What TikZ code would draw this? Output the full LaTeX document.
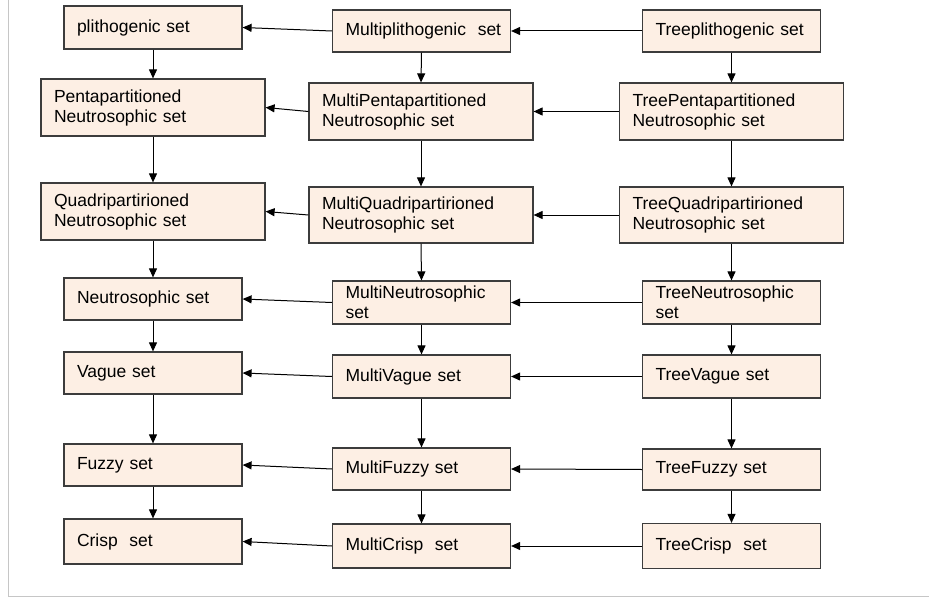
\documentclass[tikz,border=0pt]{standalone}
\usepackage{fontspec}
\setmainfont{Liberation Sans}
\usetikzlibrary{arrows.meta}
\definecolor{boxfill}{RGB}{253,239,228}
\definecolor{boxline}{RGB}{60,60,60}
\tikzset{
  setbox/.style={draw=boxline, fill=boxfill, line width=1.2pt, inner xsep=13pt, inner ysep=0pt,
    align=left, font=\fontsize{17.5}{20}\selectfont},
  narrow/.style={setbox, text width=152pt},
  wide/.style={setbox, text width=198pt},
  arr/.style={draw=black, line width=1pt, -{Triangle[length=9pt,width=8pt]}}
}
\begin{document}
\begin{tikzpicture}[x=1pt,y=-1pt]
\useasboundingbox (0,0) rectangle (929,599);
\draw[gray!45, line width=1pt] (8,0) -- (8,596) -- (929,596);
% left column
\node[narrow, minimum height=43pt] (L1) at (153,27.5) {plithogenic set};
\node[wide, minimum height=57pt] (L2) at (153,107.5) {Pentapartitioned\\Neutrosophic set};
\node[wide, minimum height=57pt] (L3) at (153,211.5) {Quadripartirioned\\Neutrosophic set};
\node[narrow, minimum height=42pt] (L4) at (153,299) {Neutrosophic set};
\node[narrow, minimum height=42pt] (L5) at (153,373) {Vague set};
\node[narrow, minimum height=42pt] (L6) at (153,465) {Fuzzy set};
\node[narrow, minimum height=45pt] (L7) at (153,541.5) {Crisp\ \ set};
% middle column
\node[narrow, minimum height=42pt] (M1) at (421.5,31) {\mbox{Multiplithogenic\ \ set}};
\node[wide, minimum height=57pt] (M2) at (421,111.5) {MultiPentapartitioned\\Neutrosophic set};
\node[wide, minimum height=56pt] (M3) at (421,215) {MultiQuadripartirioned\\Neutrosophic set};
\node[narrow, minimum height=43pt] (M4) at (421.5,302.5) {MultiNeutrosophic\\set};
\node[narrow, minimum height=43pt] (M5) at (421.5,376.5) {MultiVague set};
\node[narrow, minimum height=42pt] (M6) at (421.5,469) {MultiFuzzy set};
\node[narrow, minimum height=44pt] (M7) at (421.5,546) {MultiCrisp\ \ set};
% right column
\node[narrow, minimum height=42pt] (T1) at (731.5,31) {Treeplithogenic set};
\node[wide, minimum height=57pt] (T2) at (731.5,111.5) {TreePentapartitioned\\Neutrosophic set};
\node[wide, minimum height=56pt] (T3) at (731.5,215) {TreeQuadripartirioned\\Neutrosophic set};
\node[narrow, minimum height=43pt] (T4) at (731.5,302.5) {TreeNeutrosophic\\set};
\node[narrow, minimum height=43pt] (T5) at (731.5,376.5) {TreeVague set};
\node[narrow, minimum height=41pt] (T6) at (731.5,469.5) {TreeFuzzy set};
\node[narrow, minimum height=45pt] (T7) at (731.5,546) {TreeCrisp\ \ set};
% vertical arrows
\foreach \c in {L,M,T}{
  \foreach \a/\b in {1/2,2/3,3/4,4/5,5/6,6/7}{
    \draw[arr] (\c\a.south) -- (\c\b.north);
  }
}
% horizontal arrows
\foreach \r in {1,...,7}{
  \draw[arr] (M\r.west) -- (L\r.east);
  \draw[arr] (T\r.west) -- (M\r.east);
}
\end{tikzpicture}
\end{document}
